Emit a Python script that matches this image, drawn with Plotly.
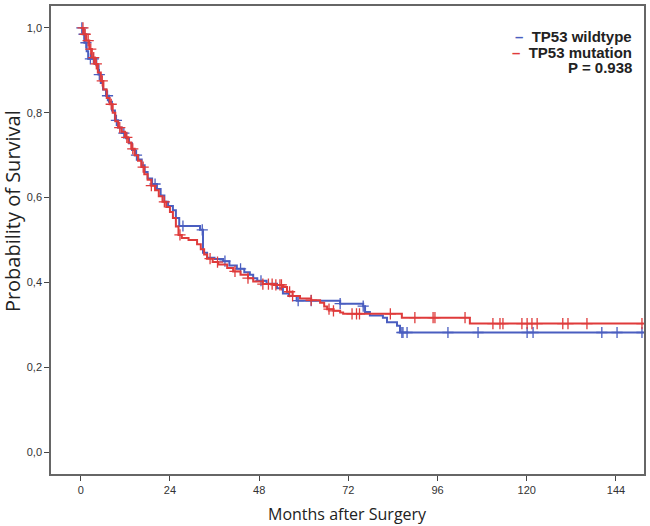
import numpy as np
import plotly.graph_objects as go

# Kaplan-Meier step data (time in months, survival after event)
wt_time = [0, 0.5, 1.0, 1.6, 2.0, 4.2, 4.8, 5.4, 6.0, 6.8, 7.6, 8.4, 9.2, 10.0, 11.0, 12.2, 13.0,
           13.8, 14.6, 15.5, 16.4, 17.2, 18.0, 19.2, 20.5, 21.5, 22.5, 23.5, 24.8, 25.6, 26.5,
           32.1, 32.9, 34.0, 36.0, 38.3, 40.0, 42.0, 44.0, 45.5, 46.4, 47.5, 50.0, 52.8, 54.4,
           56.0, 58.1, 69.8, 76.0, 76.5, 77.8, 81.3, 82.4, 85.1, 85.9, 151.5]
wt_surv = [1.0, 0.985, 0.965, 0.945, 0.927, 0.912, 0.89, 0.87, 0.855, 0.84, 0.826, 0.805, 0.782,
           0.765, 0.752, 0.74, 0.728, 0.712, 0.70, 0.69, 0.676, 0.66, 0.645, 0.632, 0.62, 0.605,
           0.59, 0.58, 0.57, 0.552, 0.533, 0.524, 0.47, 0.458, 0.455, 0.45, 0.44, 0.432, 0.424,
           0.418, 0.41, 0.404, 0.397, 0.386, 0.374, 0.368, 0.357, 0.35, 0.344, 0.33, 0.322,
           0.317, 0.306, 0.298, 0.282, 0.282]
wt_censor = [0.3, 0.9, 1.4, 2.6, 3.4, 5.0, 7.2, 9.6, 11.6, 15.0, 20.0, 27.5, 32.7, 38.8, 43.0,
             48.5, 58.5, 62.0, 69.8, 76.0, 86.4, 86.7, 87.8, 98.8, 106.9, 120.1, 121.7, 140.2,
             144.3, 151.0]

mut_time = [0, 0.8, 1.5, 2.3, 3.0, 3.8, 4.6, 5.4, 6.1, 7.0, 7.8, 8.6, 9.3, 10.1, 11.0, 11.9,
            12.8, 13.6, 14.5, 15.4, 16.3, 17.1, 18.0, 19.0, 20.0, 21.0, 22.0, 23.0, 24.0, 24.8,
            25.6, 26.3, 27.2, 29.0, 31.3, 32.3, 33.2, 34.0, 35.5, 37.0, 39.4, 41.0, 43.0, 45.0,
            46.4, 49.0, 52.0, 54.4, 55.5, 57.0, 59.0, 62.0, 64.4, 65.5, 66.3, 68.0, 69.8, 70.6,
            86.4, 104.7, 151.5]
mut_surv = [1.0, 0.985, 0.97, 0.95, 0.93, 0.915, 0.895, 0.875, 0.855, 0.835, 0.82, 0.80, 0.78,
            0.765, 0.755, 0.742, 0.73, 0.715, 0.70, 0.687, 0.672, 0.655, 0.642, 0.628, 0.617,
            0.603, 0.59, 0.578, 0.566, 0.552, 0.532, 0.512, 0.505, 0.50, 0.49, 0.478, 0.466,
            0.456, 0.448, 0.442, 0.434, 0.426, 0.418, 0.41, 0.402, 0.396, 0.394, 0.389, 0.378,
            0.368, 0.362, 0.358, 0.352, 0.343, 0.337, 0.333, 0.329, 0.326, 0.317, 0.303, 0.303]
mut_censor = [0.6, 1.2, 2.0, 2.7, 3.5, 4.2, 5.8, 8.2, 10.5, 12.4, 14.0, 16.8, 19.0, 22.5, 26.7,
              34.8, 36.8, 41.5, 45.0, 49.0, 50.5, 51.5, 52.5, 53.6, 54.0, 56.2, 57.0, 62.0,
              66.8, 68.0, 73.0, 74.2, 75.0, 83.3, 89.9, 94.8, 95.3, 103.4, 110.9, 112.8, 113.6,
              118.7, 120.1, 121.4, 122.8, 129.7, 131.1, 136.2, 151.0]

x_ticks = [0, 24, 48, 72, 96, 120, 144]
y_ticks = [0.0, 0.2, 0.4, 0.6, 0.8, 1.0]

BLUE = "#4a5ec0"
RED = "#df3b3b"


def step_value(times, surv, t):
    idx = np.searchsorted(np.asarray(times), np.asarray(t), side="right") - 1
    return np.asarray(surv)[idx]


fig = go.Figure()
for times, surv, cens, col, name in [
    (wt_time, wt_surv, wt_censor, BLUE, "TP53 wildtype"),
    (mut_time, mut_surv, mut_censor, RED, "TP53 mutation"),
]:
    fig.add_trace(go.Scatter(x=times, y=surv, mode="lines", line=dict(color=col, width=2, shape="hv"),
                             name=name, showlegend=False, hoverinfo="skip"))
    fig.add_trace(go.Scatter(x=cens, y=step_value(times, surv, cens), mode="markers",
                             marker=dict(symbol="cross-thin", size=8, line=dict(color=col, width=1.3)),
                             showlegend=False, hoverinfo="skip"))

axis_common = dict(showgrid=False, zeroline=False, showline=True, linecolor="#666666", linewidth=1.5,
                   mirror=True, ticks="outside", ticklen=5, tickwidth=1.2, tickcolor="#444444",
                   tickfont=dict(family="Liberation Sans", size=11, color="#333333"))

fig.update_layout(
    width=650, height=526,
    margin=dict(l=51, r=6, t=4, b=52),
    paper_bgcolor="white", plot_bgcolor="white",
    separators=",.",
    xaxis=dict(range=[-8.0, 151.55], tickvals=x_ticks, **axis_common),
    yaxis=dict(range=[-0.0516, 1.0516], tickvals=y_ticks, tickformat=".1f", **axis_common),
    annotations=[
        dict(text="Months after Surgery", xref="paper", yref="paper", x=0.5, y=(474 - 514) / 470,
             xanchor="center", yanchor="middle", showarrow=False,
             font=dict(family="Open Sans", size=16, color="#222222")),
        dict(text="Probability of Survival", xref="paper", yref="paper", x=(12 - 51) / 593,
             y=(474 - 210) / 470, xanchor="center", yanchor="middle", textangle=-90,
             showarrow=False, font=dict(family="Open Sans", size=20, color="#222222")),
        dict(text=f"<span style='color:{BLUE}'><b>–</b></span>  <b>TP53 wildtype</b>", xref="paper",
             yref="paper", x=(634 - 51) / 593, y=(474 - 35) / 470, xanchor="right",
             yanchor="middle", showarrow=False, align="right",
             font=dict(family="Liberation Sans", size=15, color="#222222")),
        dict(text=f"<span style='color:{RED}'><b>–</b></span>  <b>TP53 mutation</b>", xref="paper",
             yref="paper", x=(634 - 51) / 593, y=(474 - 50.5) / 470, xanchor="right",
             yanchor="middle", showarrow=False, align="right",
             font=dict(family="Liberation Sans", size=15, color="#222222")),
        dict(text="<b>P = 0.938</b>", xref="paper", yref="paper", x=(634 - 51) / 593,
             y=(474 - 66) / 470, xanchor="right", yanchor="middle", showarrow=False,
             font=dict(family="Liberation Sans", size=15, color="#222222")),
    ],
)

fig.write_html("out.html", config={"displayModeBar": False},
               post_script="document.body.style.margin='0';")
